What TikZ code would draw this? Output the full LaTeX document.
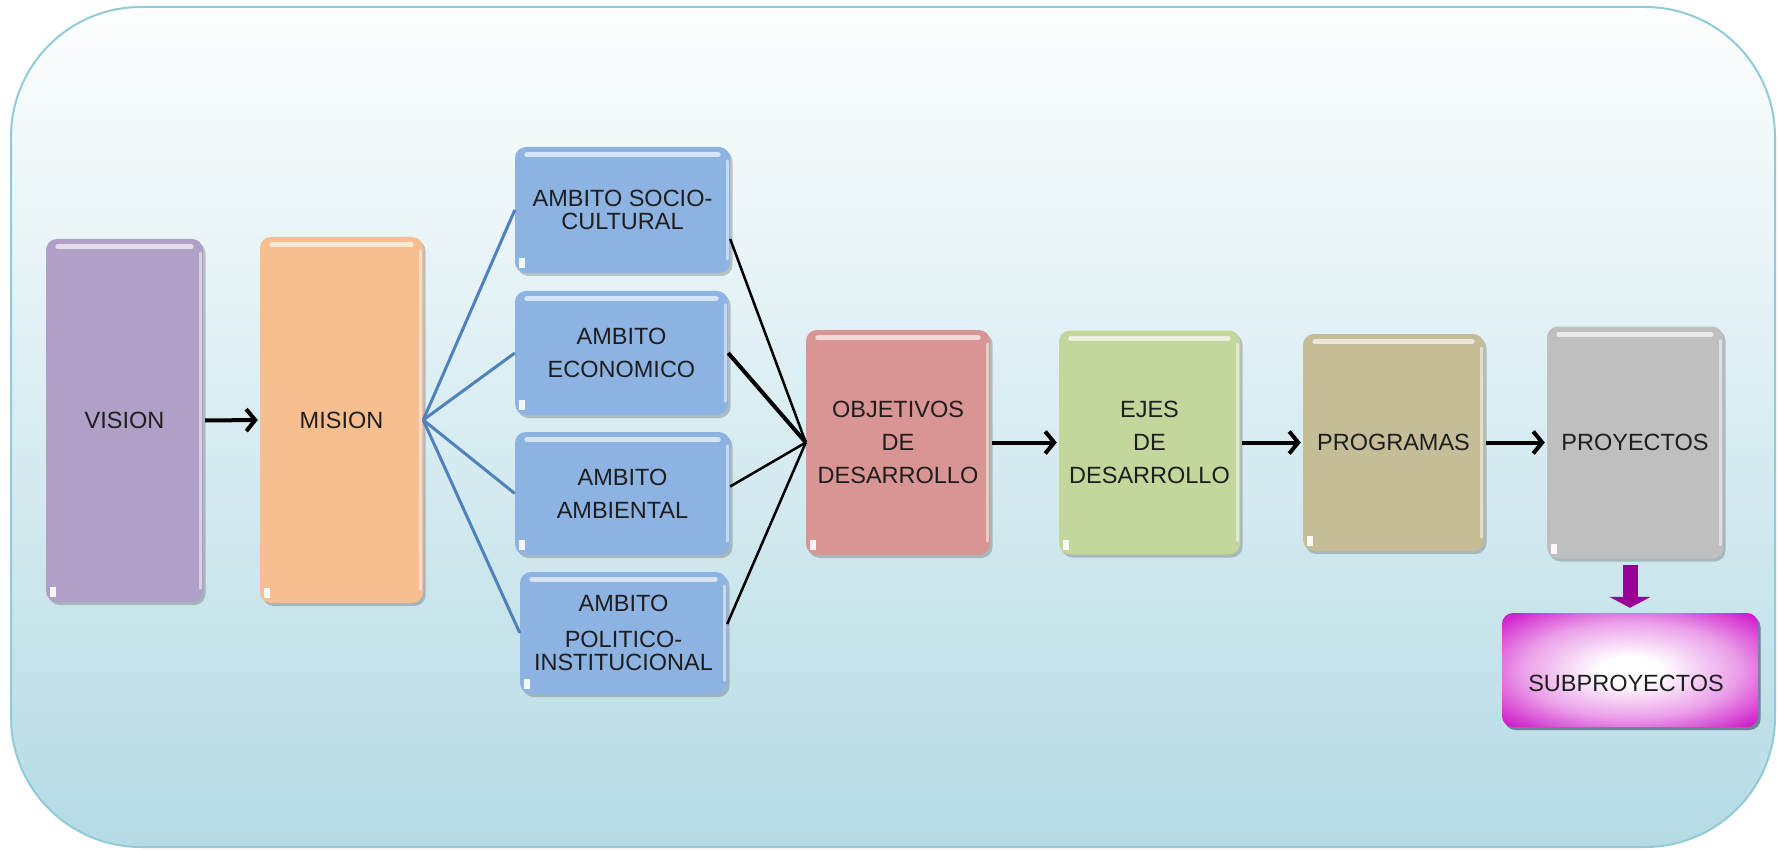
\documentclass[tikz,border=0pt]{standalone}
\usepackage{fontspec}
\setmainfont{Liberation Sans}
\usetikzlibrary{arrows.meta,shadows}
\definecolor{cvision}{HTML}{B09FC6}
\definecolor{cmision}{HTML}{F7BE8F}
\definecolor{cambito}{HTML}{8DB3E2}
\definecolor{cobj}{HTML}{D99594}
\definecolor{cejes}{HTML}{C3D69B}
\definecolor{cprog}{HTML}{C4BD97}
\definecolor{cproy}{HTML}{BFBFBF}
\definecolor{cmag}{HTML}{CF1BCB}
\definecolor{cpurple}{HTML}{9A0096}
\definecolor{cblue}{HTML}{4F81BD}
\definecolor{cbgtop}{HTML}{FDFEFE}
\definecolor{cbgmid}{HTML}{E2F0F4}
\definecolor{cbgbot}{HTML}{B5DBE5}
\definecolor{cbgline}{HTML}{92CBD8}
\definecolor{ctext}{HTML}{1E1E1E}
\pgfdeclareradialshading{subglow}{\pgfpoint{0bp}{0bp}}{color(0bp)=(white); color(6bp)=(white); color(21bp)=(cmag!42); color(34bp)=(cmag); color(50bp)=(cmag)}
\newcommand\glossy[1]{%
  \draw[white, opacity=0.65, line width=5pt, line cap=round] ([shift={(12pt,-8pt)}]#1.north west) -- ([shift={(-12pt,-8pt)}]#1.north east);
  \draw[white, opacity=0.5, line width=3pt, line cap=round] ([shift={(-3pt,-14pt)}]#1.north east) -- ([shift={(-3pt,14pt)}]#1.south east);
  \fill[white, opacity=0.9] ([shift={(4pt,5pt)}]#1.south west) rectangle ([shift={(10pt,15pt)}]#1.south west);
}
\begin{document}
\begin{tikzpicture}[x=1pt,y=-1pt,
  box/.style={rectangle, rounded corners=11pt, inner sep=0pt, align=center, text=ctext,
    font=\fontsize{23.5}{33}\selectfont,
    drop shadow={shadow xshift=2.5pt, shadow yshift=-3pt, opacity=0.3, fill=black!70}},
  arr/.style={line width=4pt, black, -{Straight Barb[length=9pt,width=22pt]}, shorten <=2pt, shorten >=2pt},
  fan/.style={line width=3pt, cblue},
  joinline/.style={line width=2.5pt, black},
  blockarrow/.style={line width=15pt, cpurple, -{Triangle[length=11pt,width=41pt]}},
  lbl/.style={inner sep=0pt, text=ctext, font=\fontsize{23.5}{33}\selectfont}
]
\useasboundingbox (0,0) rectangle (1780,850);
\path[top color=cbgtop, middle color=cbgmid, bottom color=cbgbot, draw=cbgline, line width=2pt, rounded corners=130pt]
  (11,7) rectangle (1775,847);

\node[box, fill=cvision, minimum width=157pt, minimum height=363pt] (vision) at (124.5,420.5) {VISION};
\node[box, fill=cmision, minimum width=163pt, minimum height=366pt] (mision) at (341.5,420) {MISION};
\node[box, fill=cambito, minimum width=215pt, minimum height=126pt] (socio) at (622.5,210) {AMBITO SOCIO-\\[-10pt]CULTURAL};
\node[box, fill=cambito, minimum width=213pt, minimum height=124pt] (econ) at (621.5,353) {AMBITO\\ECONOMICO};
\node[box, fill=cambito, minimum width=215pt, minimum height=123pt] (amb) at (622.5,493.5) {AMBITO\\AMBIENTAL};
\node[box, fill=cambito, minimum width=207pt, minimum height=122pt] (pol) at (623.5,633) {AMBITO\\[3pt]POLITICO-\\[-10pt]INSTITUCIONAL};
\node[box, fill=cobj, minimum width=184pt, minimum height=225pt] (obj) at (898,442.5) {OBJETIVOS\\DE\\DESARROLLO};
\node[box, fill=cejes, minimum width=181pt, minimum height=224pt] (ejes) at (1149.5,442.5) {EJES\\DE\\DESARROLLO};
\node[box, fill=cprog, minimum width=181pt, minimum height=217pt] (prog) at (1393.5,442.5) {PROGRAMAS};
\node[box, fill=cproy, minimum width=176pt, minimum height=232pt] (proy) at (1635,442.5) {PROYECTOS};
\node[box, shading=subglow, minimum width=256pt, minimum height=114pt,
  drop shadow={shadow xshift=2.5pt, shadow yshift=-3pt, opacity=0.45, fill=cblue!60!black}] (sub) at (1630,670) {};
\node[lbl] (subt) at (1626,683) {SUBPROYECTOS};

\foreach \n in {vision,mision,socio,econ,amb,pol,obj,ejes,prog,proy} {\glossy{\n}}

\draw[arr] (vision.east) -- (mision.west);
\draw[fan] (mision.east) -- (socio.west);
\draw[fan] (mision.east) -- (econ.west);
\draw[fan] (mision.east) -- (amb.west);
\draw[fan] (mision.east) -- (pol.west);
\draw[joinline] ([yshift=-29pt]socio.east) -- (obj.west);
\draw[joinline, line width=4pt] (econ.east) -- (obj.west);
\draw[joinline] ([yshift=7pt]amb.east) -- (obj.west);
\draw[joinline] ([yshift=9pt]pol.east) -- (obj.west);
\draw[arr] (obj.east) -- (ejes.west);
\draw[arr] (ejes.east) -- (prog.west);
\draw[arr] (prog.east) -- (proy.west);
\draw[blockarrow] ([yshift=-6pt]sub.north |- proy.south) -- ([yshift=5pt]sub.north);
\end{tikzpicture}
\end{document}
